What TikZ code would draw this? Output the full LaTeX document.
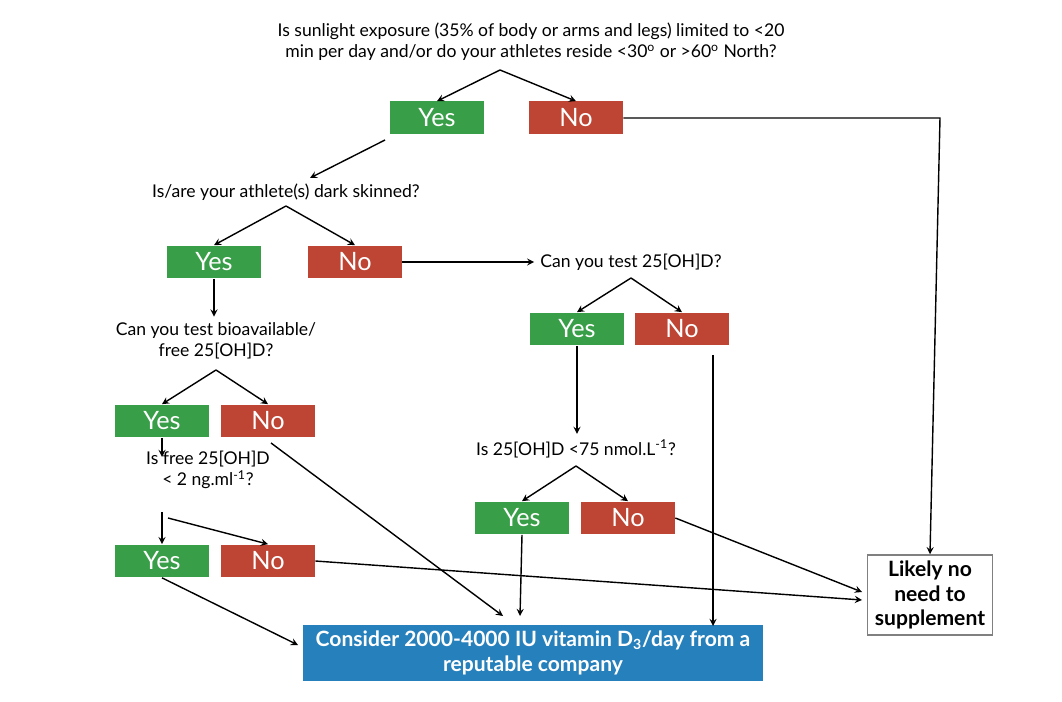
\documentclass[tikz,border=0pt]{standalone}
\usepackage{fontspec}
\setmainfont{Lato}
\usetikzlibrary{positioning}
\definecolor{yesgreen}{RGB}{56,158,72}
\definecolor{nored}{RGB}{190,68,52}
\definecolor{finalblue}{RGB}{38,128,188}
\tikzset{
  answer/.style={rectangle, minimum width=1.88cm, minimum height=0.66cm, text=white, font=\Large},
  yes/.style={answer, fill=yesgreen},
  no/.style={answer, fill=nored},
  question/.style={align=center, font=\normalsize},
  arr/.style={->, >=stealth, thick}
}
\begin{document}
\begin{tikzpicture}[x=0.02cm, y=-0.02cm]
        \useasboundingbox (0,0) rectangle (1062,702);
        \node[question] at (531,42) (Sun) {Is sunlight exposure (35\% of body or arms and legs) limited to <20\\min per day and/or do your athletes reside <30\textsuperscript{o} or >60\textsuperscript{o} North?};
        \node[yes] at (437,118) (SunYes) {Yes};
        \node[no] at (576,118) (SunNo) {No};
        \node[question] at (286,192) (Dark) {Is/are your athlete(s) dark skinned?};
        \node[yes] at (214,262) (DarkYes) {Yes};
        \node[no] at (355,262) (DarkNo) {No};
        \node[question] at (631,262) (Test) {Can you test 25[OH]D?};
        \node[yes] at (577,329) (TestYes) {Yes};
        \node[no] at (682,329) (TestNo) {No};
        \node[question] at (216,341) (Bio) {Can you test bioavailable/\\free 25[OH]D?};
        \node[yes] at (162,421) (BioYes) {Yes};
        \node[no] at (268,421) (BioNo) {No};
        \node[question] at (208,470) (Free) {Is free 25[OH]D\\< 2 ng.ml\textsuperscript{-1}?};
        \node[yes] at (162,561) (FreeYes) {Yes};
        \node[no] at (268,561) (FreeNo) {No};
        \node[question] at (576,449) (Level) {Is 25[OH]D <75 nmol.L\textsuperscript{-1}?};
        \node[yes] at (522,518) (LevelYes) {Yes};
        \node[no] at (628,518) (LevelNo) {No};
        \node[rectangle, fill=finalblue, minimum width=9.2cm, minimum height=1.08cm, text=white, font=\large\bfseries, align=center] at (533,653) (Final) {Consider 2000-4000 IU vitamin D\textsubscript{3}/day from a\\reputable company};
        \node[rectangle, draw=gray, thick, minimum width=2.5cm, minimum height=1.54cm, align=center, font=\large\bfseries] at (930,595) (Likely) {Likely no\\need to\\supplement};

        \coordinate (SunSplit) at (500,70);
        \coordinate (DarkSplit) at (286,206);
        \coordinate (TestSplit) at (631,278);
        \coordinate (BioSplit) at (216,370);
        \coordinate (FreeSplit) at (162,512);
        \coordinate (LevelSplit) at (576,466);

        \draw[arr] (SunSplit) -- (SunYes.north);
        \draw[arr] (SunSplit) -- (SunNo.north);
        \draw[arr] (SunNo.east) -- (940,118) -- (Likely.north);
        \draw[arr] (385,140) -- (310,178);
        \draw[arr] (DarkSplit) -- (DarkYes.north);
        \draw[arr] (DarkSplit) -- (DarkNo.north);
        \draw[arr] (DarkNo.east) -- (Test.west);
        \draw[arr] (DarkYes.south) -- (Bio.north -| DarkYes);
        \draw[arr] (TestSplit) -- (TestYes.north);
        \draw[arr] (TestSplit) -- (TestNo.north);
        \draw[arr] (TestYes.south) -- (Level.north -| TestYes);
        \draw[arr] (713,355) -- (713,626);
        \draw[arr] (BioSplit) -- (BioYes.north);
        \draw[arr] (BioSplit) -- (BioNo.north);
        \draw[arr] (BioYes.south) -- (162,457);
        \draw[arr] (271,443) -- (503,616);
        \draw[arr] (162,512) -- (FreeYes.north);
        \draw[arr] (168,518) -- (FreeNo.north);
        \draw[arr] (FreeYes.south) -- (298,645);
        \draw[arr] (FreeNo.east) -- (862,600);
        \draw[arr] (LevelSplit) -- (LevelYes.north);
        \draw[arr] (LevelSplit) -- (LevelNo.north);
        \draw[arr] (LevelYes.south) -- (520,616);
        \draw[arr] (LevelNo.east) -- (862,592);
\end{tikzpicture}
\end{document}
